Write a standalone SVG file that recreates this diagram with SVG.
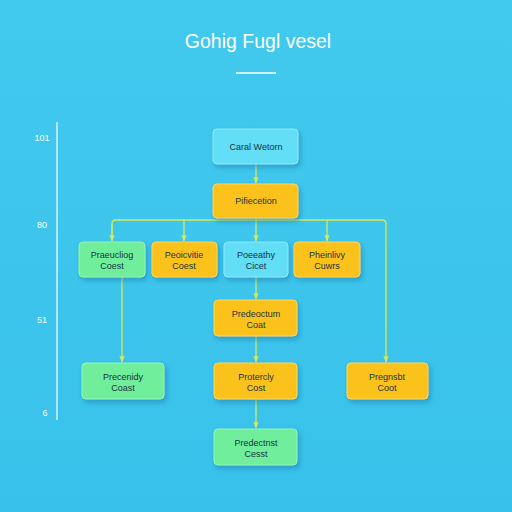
<svg xmlns="http://www.w3.org/2000/svg" width="512" height="512" viewBox="0 0 512 512">
<defs>
<linearGradient id="bg" x1="0" y1="0" x2="0" y2="1">
<stop offset="0" stop-color="#42c9ee"/>
<stop offset="1" stop-color="#38c1ea"/>
</linearGradient>
<filter id="sh" x="-20%" y="-20%" width="150%" height="160%">
<feDropShadow dx="2" dy="3" stdDeviation="2.5" flood-color="#1b6f9a" flood-opacity="0.45"/>
</filter>
<marker id="ar" viewBox="0 0 10 10" refX="9" refY="5" markerWidth="5" markerHeight="5" orient="auto">
<path d="M0,1 L10,5 L0,9 z" fill="#d6e85a"/>
</marker>
<style>
.box{stroke-width:1;filter:url(#sh)}
.cy{fill:#62def6;stroke:#8cecff}
.or{fill:#fbc21c;stroke:#ffd659}
.gr{fill:#6fee9c;stroke:#95f6b8}
.t{font-family:"Liberation Sans",Arial,sans-serif;font-size:9px;fill:#1a343c;text-anchor:middle}
.ax{font-family:"Liberation Sans",Arial,sans-serif;font-size:9px;fill:#ffffff;text-anchor:middle}
.c{fill:none;stroke:#d6e85a;stroke-width:1.3}
</style>
</defs>
<rect width="512" height="512" fill="url(#bg)"/>
<text x="258" y="48" font-family="'Liberation Sans',Arial,sans-serif" font-size="19.5" fill="#ffffff" text-anchor="middle">Gohig Fugl vesel</text>
<line x1="236" y1="73" x2="276" y2="73" stroke="#ffffff" stroke-width="1.5"/>
<g id="axis">
<line x1="57" y1="122" x2="57" y2="420" stroke="#ffffff" stroke-width="1.2"/>
<text class="ax" x="42" y="141">101</text>
<text class="ax" x="42" y="228">80</text>
<text class="ax" x="42" y="323">51</text>
<text class="ax" x="45" y="416">6</text>
</g>
<g id="connectors">
<line class="c" x1="256" y1="164" x2="256" y2="183" marker-end="url(#ar)"/>
<line class="c" x1="256" y1="218" x2="256" y2="241" marker-end="url(#ar)"/>
<path class="c" d="M112,236 V224 Q112,220 116,220 H382 Q386,220 386,224 V362" marker-end="url(#ar)"/>
<line class="c" x1="112" y1="224" x2="112" y2="241" marker-end="url(#ar)"/>
<line class="c" x1="184" y1="220" x2="184" y2="241" marker-end="url(#ar)"/>
<line class="c" x1="327" y1="220" x2="327" y2="241" marker-end="url(#ar)"/>
<line class="c" x1="122" y1="277" x2="122" y2="362" marker-end="url(#ar)"/>
<line class="c" x1="256" y1="277" x2="256" y2="299" marker-end="url(#ar)"/>
<line class="c" x1="256" y1="336" x2="256" y2="362" marker-end="url(#ar)"/>
<line class="c" x1="256" y1="399" x2="256" y2="428" marker-end="url(#ar)"/>
</g>
<g id="n1"><rect class="box cy" x="213" y="129" width="85" height="35" rx="4"/><text class="t" x="256" y="150">Caral Wetorn</text></g>
<g id="n2"><rect class="box or" x="213" y="184" width="85" height="34" rx="4"/><text class="t" x="256" y="204">Pifiecetion</text></g>
<g id="n3"><rect class="box gr" x="79" y="242" width="66" height="35" rx="4"/><text class="t" x="112" y="258">Praeucliog</text><text class="t" x="112" y="269">Coest</text></g>
<g id="n4"><rect class="box or" x="152" y="242" width="65" height="35" rx="4"/><text class="t" x="184" y="258">Peoicvitie</text><text class="t" x="184" y="269">Coest</text></g>
<g id="n5"><rect class="box cy" x="224" y="242" width="64" height="35" rx="4"/><text class="t" x="256" y="258">Poeeathy</text><text class="t" x="256" y="269">Cicet</text></g>
<g id="n6"><rect class="box or" x="294" y="242" width="66" height="35" rx="4"/><text class="t" x="327" y="258">Pheinlivy</text><text class="t" x="327" y="269">Cuwrs</text></g>
<g id="n7"><rect class="box or" x="214" y="300" width="83" height="36" rx="4"/><text class="t" x="256" y="317">Predeoctum</text><text class="t" x="256" y="328">Coat</text></g>
<g id="n8"><rect class="box gr" x="82" y="363" width="82" height="36" rx="4"/><text class="t" x="123" y="380">Precenidy</text><text class="t" x="123" y="391">Coast</text></g>
<g id="n9"><rect class="box or" x="214" y="363" width="83" height="36" rx="4"/><text class="t" x="256" y="380">Protercly</text><text class="t" x="256" y="391">Cost</text></g>
<g id="n10"><rect class="box or" x="347" y="363" width="81" height="36" rx="4"/><text class="t" x="387" y="380">Pregnsbt</text><text class="t" x="387" y="391">Coot</text></g>
<g id="n11"><rect class="box gr" x="214" y="429" width="83" height="36" rx="4"/><text class="t" x="256" y="446">Predectnst</text><text class="t" x="256" y="457">Cesst</text></g>
</svg>
